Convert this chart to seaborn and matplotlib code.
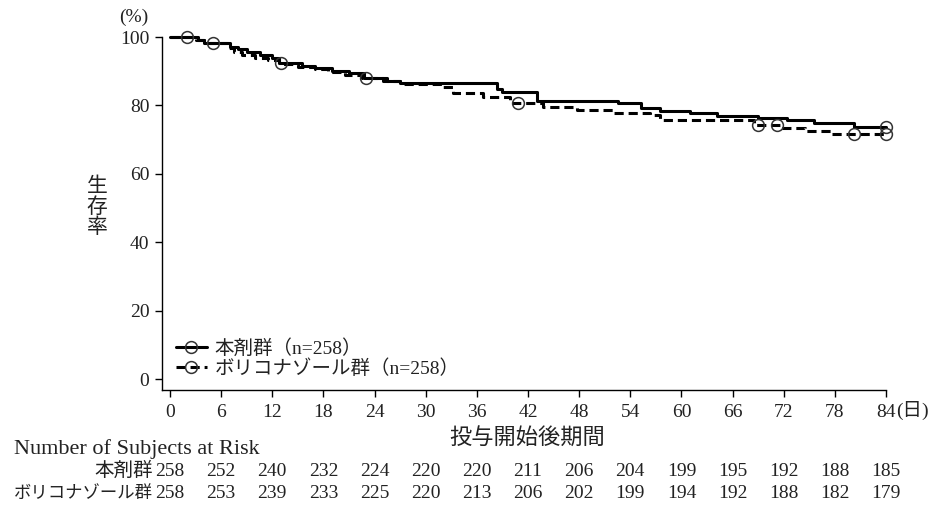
import numpy as np
import pandas as pd
import matplotlib
matplotlib.use("Agg")
import matplotlib.pyplot as plt
from matplotlib.lines import Line2D
from matplotlib import transforms
import seaborn as sns

# ---------------- data ----------------
# Kaplan-Meier steps (day, survival %) - 本剤群
time_a = [0, 3.3, 4.0, 7.0, 8.0, 9.0, 10.5, 12.0, 12.8, 15.5, 17.0, 19.0, 21.0, 22.8,
          25.5, 27.0, 38.4, 39.0, 43.0, 52.5, 55.2, 57.5, 61.0, 64.2, 69.0, 72.4, 75.5, 80.2]
surv_a = [100, 99.0, 98.3, 97.2, 96.4, 95.5, 94.7, 93.8, 92.4, 91.5, 90.8, 90.2, 89.5, 88.0,
          87.2, 86.5, 84.8, 83.9, 81.4, 80.6, 79.2, 78.4, 77.7, 77.0, 76.2, 75.7, 74.8, 73.6]
cens_a = [2, 5, 13, 23, 84]

# ボリコナゾール群
time_b = [0, 3.0, 4.0, 6.8, 7.5, 8.5, 10.0, 11.5, 12.8, 15.0, 17.0, 18.5, 20.5, 22.5,
          25.0, 27.0, 31.7, 33.2, 36.7, 39.9, 43.8, 47.8, 52.0, 56.3, 57.5, 68.5, 71.6,
          74.5, 77.5]
surv_b = [100, 99.0, 98.2, 96.8, 95.6, 94.7, 94.0, 93.2, 92.2, 91.2, 90.5, 89.8, 89.0, 88.0,
          87.0, 86.3, 85.5, 83.5, 82.6, 80.6, 79.6, 78.7, 77.9, 77.2, 75.7, 74.4, 73.5,
          72.5, 71.5]
cens_b = [40.8, 69, 71.2, 80.2, 84]

end_day = 84

risk_days = [0, 6, 12, 18, 24, 30, 36, 42, 48, 54, 60, 66, 72, 78, 84]
risk_a = [258, 252, 240, 232, 224, 220, 220, 211, 206, 204, 199, 195, 192, 188, 185]
risk_b = [258, 253, 239, 233, 225, 220, 213, 206, 202, 199, 194, 192, 188, 182, 179]

label_a = "本剤群（n=258）"
label_b = "ボリコナゾール群（n=258）"
row_a = "本剤群"
row_b = "ボリコナゾール群"

# ---------------- style ----------------
sns.set_style("ticks")
FAM = ["Liberation Serif", "Noto Sans CJK JP", "DejaVu Sans"]
plt.rcParams["font.family"] = FAM
TXT = "#222222"

W, H = 939, 507
fig = plt.figure(figsize=(W / 100, H / 100), dpi=100)
L, R, T, B = 162, 886, 37, 390
ax = fig.add_axes([L / W, 1 - B / H, (R - L) / W, (B - T) / H])


def step_val(times, survs, t):
    i = np.searchsorted(times, t, side="right") - 1
    return survs[i]


def km_frame(times, survs):
    tt = list(times) + [end_day]
    ss = list(survs) + [survs[-1]]
    return pd.DataFrame({"day": tt, "surv": ss})


da = km_frame(time_a, surv_a)
db = km_frame(time_b, surv_b)

LW = 2.2
sns.lineplot(data=db, x="day", y="surv", ax=ax, color="black", lw=LW,
             drawstyle="steps-post", estimator=None, sort=False,
             dashes=False, linestyle=(0, (3, 1.6)), clip_on=False)
sns.lineplot(data=da, x="day", y="surv", ax=ax, color="black", lw=LW,
             drawstyle="steps-post", estimator=None, sort=False, clip_on=False)

ca = pd.DataFrame({"day": cens_a, "surv": [step_val(time_a, surv_a, c) for c in cens_a]})
cb = pd.DataFrame({"day": cens_b, "surv": [step_val(time_b, surv_b, c) for c in cens_b]})
for cdf in (ca, cb):
    ax.plot(cdf["day"], cdf["surv"], ls="none", marker="o", ms=8.5, mfc="none",
            mec="#333333", mew=1.1, clip_on=False, zorder=5)

ax.set_xlim(-0.94, 84)
ax.set_ylim(-3.2, 100)
ax.set_xticks(risk_days)
ax.set_yticks([0, 20, 40, 60, 80, 100])
ax.tick_params(axis="both", direction="out", length=5, width=1, colors="black",
               labelsize=14, labelcolor=TXT, pad=4)
ax.tick_params(axis="x", pad=5)
for sp in ("top", "right"):
    ax.spines[sp].set_visible(False)
for sp in ("left", "bottom"):
    ax.spines[sp].set_linewidth(1.0)
    ax.spines[sp].set_color("black")
ax.set_xlabel("")
ax.set_ylabel("")

# legend
h_a = Line2D([], [], color="black", lw=LW, marker="o", ms=8.5, mfc="none",
             mec="#333333", mew=1.1)
h_b = Line2D([], [], color="black", lw=LW, ls=(0, (3, 1.6)), marker="o", ms=8.5,
             mfc="none", mec="#333333", mew=1.1)
leg = ax.legend([h_a, h_b], [label_a, label_b], loc="lower left",
                bbox_to_anchor=(0.0, -0.005), frameon=False, fontsize=14,
                handlelength=1.6, handletextpad=0.4, labelspacing=0.1,
                borderaxespad=0.3)
for t in leg.get_texts():
    t.set_color(TXT)


def fy(y):
    return 1 - y / H


def fx(x):
    return x / W


fig.text(fx(134), fy(17), "(%)", ha="center", va="center", fontsize=14, color=TXT)
fig.text(fx(97), fy(208), "生\n存\n率", ha="center", va="center", fontsize=15,
         color=TXT, linespacing=1.05)
fig.text(fx(912), fy(410), "(日)", ha="center", va="center", fontsize=14, color=TXT)
fig.text(fx(527), fy(438), "投与開始後期間", ha="center", va="center", fontsize=16,
         color=TXT)
fig.text(fx(14), fy(449), "Number of Subjects at Risk", ha="left", va="center",
         fontsize=16, color=TXT)
fig.text(fx(153), fy(471), row_a, ha="right", va="center", fontsize=14, color=TXT)
fig.text(fx(153), fy(494), row_b, ha="right", va="center", fontsize=12.5, color=TXT)

tr = transforms.blended_transform_factory(ax.transData, fig.transFigure)
for d, na, nb in zip(risk_days, risk_a, risk_b):
    ax.text(d, fy(471), str(na), transform=tr, ha="center", va="center",
            fontsize=14, color=TXT, clip_on=False)
    ax.text(d, fy(494), str(nb), transform=tr, ha="center", va="center",
            fontsize=14, color=TXT, clip_on=False)

fig.savefig("out.png", dpi=100)
